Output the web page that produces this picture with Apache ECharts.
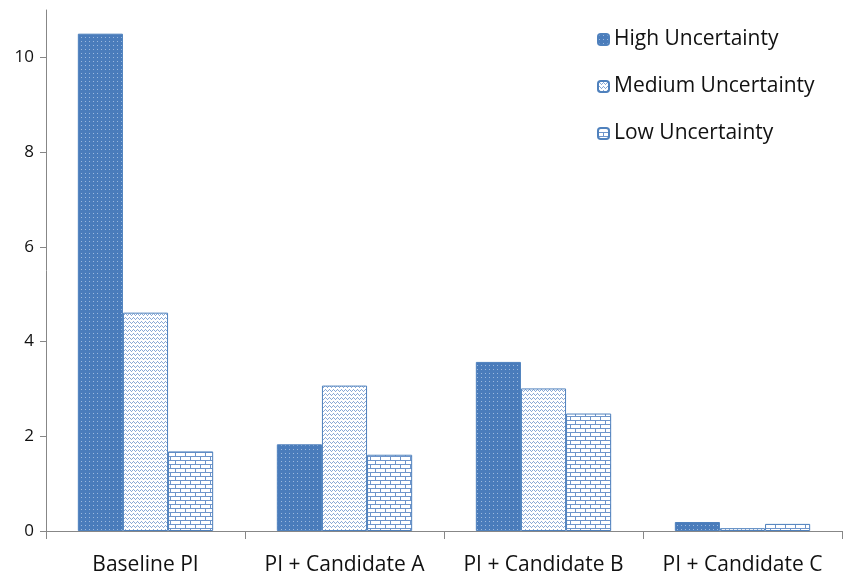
<!DOCTYPE html>
<html>
<head>
<meta charset="utf-8">
<script src="https://cdn.jsdelivr.net/npm/echarts@6/dist/echarts.min.js"></script>
<style>html,body{margin:0;padding:0;background:#fff}#c{width:849px;height:581px}</style>
</head>
<body>
<div id="c"></div>
<script>
const categories = ['Baseline PI', 'PI + Candidate A', 'PI + Candidate B', 'PI + Candidate C'];
const seriesNames = ['High Uncertainty', 'Medium Uncertainty', 'Low Uncertainty'];
const highValues = [10.5, 1.83, 3.57, 0.19];
const mediumValues = [4.61, 3.07, 3.01, 0.06];
const lowValues = [1.68, 1.61, 2.48, 0.15];
const yTicks = [0, 2, 4, 6, 8, 10];

const BLUE = '#4f81bd';

function makeCanvas(w, h, draw) {
  const c = document.createElement('canvas');
  c.width = w; c.height = h;
  draw(c.getContext('2d'));
  return c;
}
const highPattern = makeCanvas(4, 4, ctx => {
  ctx.fillStyle = '#4a7cbb'; ctx.fillRect(0, 0, 4, 4);
  ctx.fillStyle = '#9cb9de'; ctx.fillRect(1, 1, 1, 1);
});
const medPattern = makeCanvas(4, 4, ctx => {
  ctx.fillStyle = '#ffffff'; ctx.fillRect(0, 0, 4, 4);
  ctx.fillStyle = '#8aaad6';
  ctx.fillRect(0, 2, 1, 1); ctx.fillRect(1, 1, 1, 1); ctx.fillRect(2, 2, 1, 1); ctx.fillRect(3, 3, 1, 1);
});
const lowPattern = makeCanvas(10, 8, ctx => {
  ctx.fillStyle = '#ffffff'; ctx.fillRect(0, 0, 10, 8);
  ctx.fillStyle = '#6e95cb';
  ctx.fillRect(0, 0, 10, 1); ctx.fillRect(0, 4, 10, 1);
  ctx.fillRect(0, 0, 1, 4); ctx.fillRect(5, 4, 1, 4);
});

const patterns = [highPattern, medPattern, lowPattern];
const values = [highValues, mediumValues, lowValues];

const chart = echarts.init(document.getElementById('c'), null, {renderer: 'canvas'});
chart.setOption({
  animation: false,
  backgroundColor: '#ffffff',
  grid: {left: 46, right: 7, top: 10, bottom: 50, containLabel: false},
  legend: {
    orient: 'vertical', left: 592, top: 24,
    itemWidth: 11, itemHeight: 11, itemGap: 26, itemTextGap: 13,
    textStyle: {fontFamily: 'Open Sans', fontSize: 21, color: '#111111', lineHeight: 21},
    data: seriesNames
  },
  xAxis: {
    type: 'category', data: categories,
    axisLine: {lineStyle: {color: '#878787', width: 1}},
    axisTick: {show: true, length: 8, lineStyle: {color: '#878787'}},
    axisLabel: {fontFamily: 'Open Sans', fontSize: 21, color: '#111111', margin: 24, interval: 0, hideOverlap: false}
  },
  yAxis: {
    type: 'value', min: 0, max: 11,
    splitLine: {show: false},
    axisLine: {show: true, lineStyle: {color: '#878787'}},
    axisTick: {show: true, length: 6, lineStyle: {color: '#878787'}, customValues: yTicks},
    axisLabel: {fontFamily: 'Open Sans', fontSize: 17, color: '#111111', margin: 12, customValues: yTicks}
  },
  series: seriesNames.map((n, i) => ({
    name: n, type: 'bar', data: values[i],
    barGap: '0%', barCategoryGap: '32%',
    itemStyle: {color: {image: patterns[i], repeat: 'repeat'}, borderColor: BLUE, borderWidth: 1}
  }))
});
</script>
</body>
</html>
